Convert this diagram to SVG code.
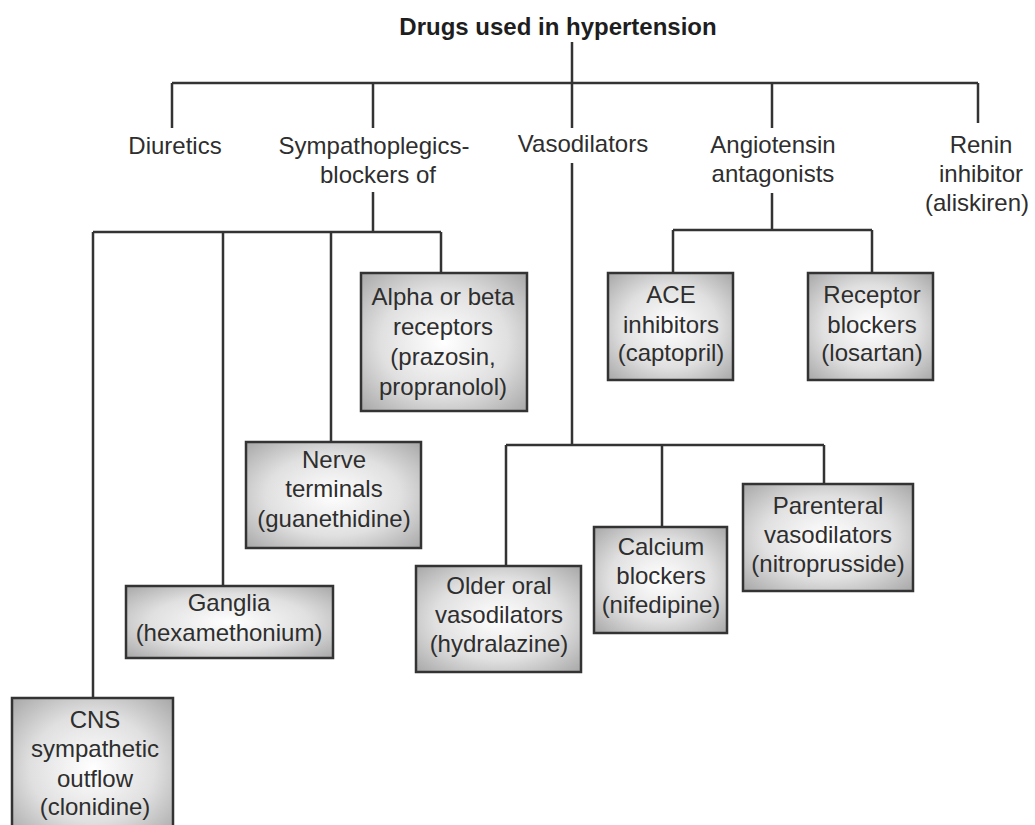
<svg xmlns="http://www.w3.org/2000/svg" width="1035" height="825" viewBox="0 0 1035 825">
<defs>
<radialGradient id="g" cx="50%" cy="50%" r="70%">
<stop offset="0%" stop-color="#ffffff"/>
<stop offset="55%" stop-color="#e0e0e0"/>
<stop offset="100%" stop-color="#a8a8a8"/>
</radialGradient>
</defs>
<style>
text{font-family:"Liberation Sans",Arial,sans-serif;font-size:24px;fill:#2e2e2e;text-anchor:middle}
.title{font-weight:bold;font-size:24px;fill:#1e1e1e}
.box{fill:url(#g);stroke:#333;stroke-width:2.5}
.conn path{fill:none;stroke:#333;stroke-width:2.5}
</style>
<rect width="1035" height="825" fill="#fff"/>
<g class="conn" id="connectors">
<path d="M572 42V83M172 83H978M172 83V128M373 83V128M572 83V128M772 83V128M978 83V123"/>
<path d="M373 192V232M93 232H441M93 232V698M223 232V586M331 232V442M441 232V273"/>
<path d="M772 193V230M673 230H872M673 230V273M872 230V273"/>
<path d="M572 163V445M506 445H824M506 445V566M662 445V527M824 445V484"/>
</g>
<g id="title"><text class="title" x="558" y="35">Drugs used in hypertension</text></g>
<g id="diuretics"><text x="175" y="154">Diuretics</text></g>
<g id="sympathoplegics"><text x="374" y="154">Sympathoplegics-</text><text x="378" y="183">blockers of</text></g>
<g id="vasodilators"><text x="583" y="152">Vasodilators</text></g>
<g id="angiotensin"><text x="773" y="153">Angiotensin</text><text x="773" y="182">antagonists</text></g>
<g id="renin"><text x="981" y="153">Renin</text><text x="981" y="182">inhibitor</text><text x="977" y="211">(aliskiren)</text></g>
<g id="alpha"><rect class="box" x="361" y="273" width="166" height="138"/><text x="443" y="305">Alpha or beta</text><text x="443" y="335">receptors</text><text x="443" y="365">(prazosin,</text><text x="443" y="395">propranolol)</text></g>
<g id="nerve"><rect class="box" x="246" y="442" width="175" height="106"/><text x="334" y="468">Nerve</text><text x="334" y="497">terminals</text><text x="334" y="527">(guanethidine)</text></g>
<g id="ganglia"><rect class="box" x="126" y="586" width="207" height="72"/><text x="229" y="611">Ganglia</text><text x="229" y="641">(hexamethonium)</text></g>
<g id="cns"><rect class="box" x="12" y="698" width="161" height="140"/><text x="95" y="728">CNS</text><text x="95" y="757">sympathetic</text><text x="95" y="787">outflow</text><text x="95" y="815">(clonidine)</text></g>
<g id="ace"><rect class="box" x="608" y="273" width="125" height="107"/><text x="671" y="303">ACE</text><text x="671" y="333">inhibitors</text><text x="671" y="361">(captopril)</text></g>
<g id="receptor"><rect class="box" x="808" y="273" width="125" height="107"/><text x="872" y="303">Receptor</text><text x="872" y="333">blockers</text><text x="872" y="361">(losartan)</text></g>
<g id="older"><rect class="box" x="416" y="566" width="165" height="106"/><text x="499" y="594">Older oral</text><text x="499" y="623">vasodilators</text><text x="499" y="652">(hydralazine)</text></g>
<g id="calcium"><rect class="box" x="594" y="527" width="133" height="106"/><text x="661" y="555">Calcium</text><text x="661" y="584">blockers</text><text x="661" y="613">(nifedipine)</text></g>
<g id="parenteral"><rect class="box" x="743" y="484" width="170" height="107"/><text x="828" y="514">Parenteral</text><text x="828" y="543">vasodilators</text><text x="828" y="572">(nitroprusside)</text></g>
</svg>
